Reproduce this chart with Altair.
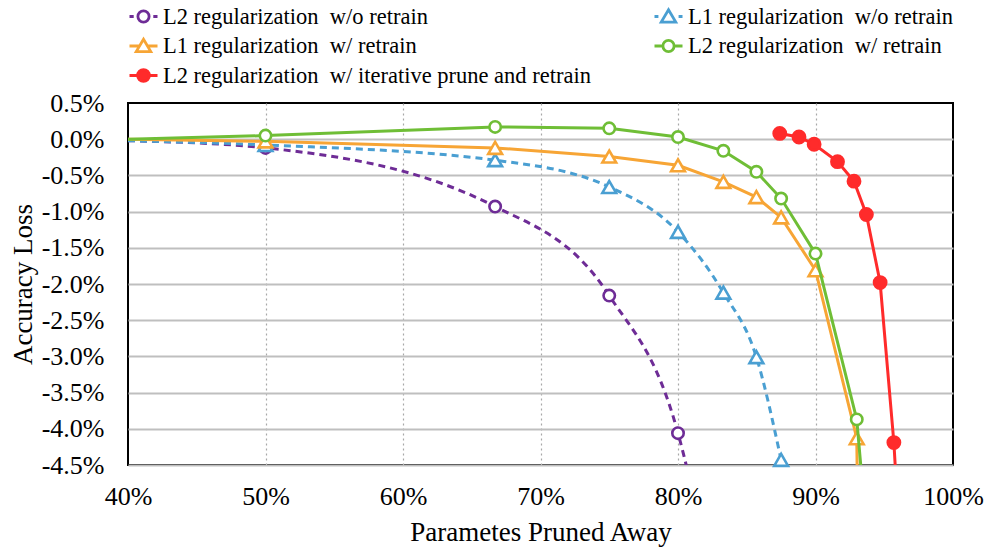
import altair as alt
import pandas as pd

# Series names (legend order, row by row)
SERIES = [
    "L2 regularization\u00a0 w/o retrain",
    "L1 regularization\u00a0 w/o retrain",
    "L1 regularization\u00a0 w/ retrain",
    "L2 regularization\u00a0 w/ retrain",
    "L2 regularization\u00a0 w/ iterative prune and retrain",
]

# Fraction of parameters pruned away (%) and accuracy change (%) per series.
# The flag lists mark which vertices carry a marker.
l2_noretrain_x = [40, 50, 66.7, 75, 80, 83.3]
l2_noretrain_y = [-0.02, -0.12, -0.93, -2.16, -4.06, -7.0]
l2_noretrain_m = [False, True, True, True, True, False]

l1_noretrain_x = [40, 50, 66.7, 75, 80, 83.3, 85.7, 87.5]
l1_noretrain_y = [-0.02, -0.08, -0.29, -0.66, -1.28, -2.12, -3.01, -4.43]
l1_noretrain_m = [False, True, True, True, True, True, True, True]

l1_retrain_x = [40, 50, 66.7, 75, 80, 83.3, 85.7, 87.5, 90, 93, 93.1]
l1_retrain_y = [0.0, -0.03, -0.12, -0.24, -0.36, -0.59, -0.80, -1.08, -1.81, -4.13, -5.5]
l1_retrain_m = [False, True, True, True, True, True, True, True, True, True, False]

l2_retrain_x = [40, 50, 66.7, 75, 80, 83.3, 85.7, 87.5, 90, 93, 93.75]
l2_retrain_y = [0.0, 0.05, 0.17, 0.15, 0.03, -0.16, -0.45, -0.82, -1.58, -3.87, -5.5]
l2_retrain_m = [False, True, True, True, True, True, True, True, True, True, False]

l2_iter_x = [87.4, 88.8, 89.9, 91.6, 92.8, 93.7, 94.7, 95.7, 96.1]
l2_iter_y = [0.08, 0.03, -0.07, -0.31, -0.58, -1.04, -1.98, -4.19, -5.5]
l2_iter_m = [True, True, True, True, True, True, True, True, False]

x_ticks = [40, 50, 60, 70, 80, 90, 100]
y_ticks = [0.5, 0.0, -0.5, -1.0, -1.5, -2.0, -2.5, -3.0, -3.5, -4.0, -4.5]

SERIF = "Liberation Serif"

# Per-series drawing style
STYLES = [
    dict(color="#6E2C96", dash=[7, 5], interp="monotone", shape="circle", fill="white", size=130),
    dict(color="#4A9FD2", dash=[7, 5], interp="monotone", shape="triangle-up", fill="white", size=190),
    dict(color="#F7A535", dash=None, interp="linear", shape="triangle-up", fill="white", size=190),
    dict(color="#6FBE36", dash=None, interp="linear", shape="circle", fill="white", size=130),
    dict(color="#FF2B2B", dash=None, interp="linear", shape="circle", fill="#FF2B2B", size=150),
]

# Legend glyphs: line stubs with the marker in the middle (unit box -1..1)
LEGEND_PATHS = [
    "M-1,0H-0.7M0.7,0H1M0.4,0A0.4,0.4,0,1,1,-0.4,0A0.4,0.4,0,1,1,0.4,0",
    "M-1,0H-0.72M0.72,0H1M0,-0.48L0.52,0.4L-0.52,0.4Z",
    "M-1,0H-0.3M0.3,0H1M0,-0.48L0.52,0.4L-0.52,0.4Z",
    "M-1,0H-0.4M0.4,0H1M0.4,0A0.4,0.4,0,1,1,-0.4,0A0.4,0.4,0,1,1,0.4,0",
    "M-1,0H-0.42M0.42,0H1M0.42,0A0.42,0.42,0,1,1,-0.42,0A0.42,0.42,0,1,1,0.42,0",
]

data = [
    (l2_noretrain_x, l2_noretrain_y, l2_noretrain_m),
    (l1_noretrain_x, l1_noretrain_y, l1_noretrain_m),
    (l1_retrain_x, l1_retrain_y, l1_retrain_m),
    (l2_retrain_x, l2_retrain_y, l2_retrain_m),
    (l2_iter_x, l2_iter_y, l2_iter_m),
]

x_axis = alt.Axis(
    values=x_ticks,
    labelExpr="datum.value + '%'",
    grid=True,
    gridDash=[2, 3],
    gridColor="#a8a8a8",
    gridWidth=1.2,
    gridOpacity={"condition": {"test": "datum.value < 41 || datum.value > 99", "value": 0}, "value": 1},
    domain=False,
    ticks=False,
    labelPadding=18,
    labelFlush=False,
    title="Parametes Pruned Away",
    titlePadding=10,
)

y_axis = alt.Axis(
    values=y_ticks,
    labelExpr="(datum.value < 0 ? '-' : '') + format(abs(datum.value), '.1f') + '%'",
    grid=True,
    gridColor="#bfbfbf",
    gridWidth=2,
    gridOpacity={"condition": {"test": "datum.value > 0.4", "value": 0}, "value": 1},
    domain=False,
    ticks=False,
    labelPadding=24,
    labelFlush=False,
    title="Accuracy Loss",
    titlePadding=4,
)

X = alt.X("pruned:Q", scale=alt.Scale(domain=[40, 100], nice=False, zero=False), axis=x_axis)
Y = alt.Y("loss:Q", scale=alt.Scale(domain=[-4.5, 0.5], nice=False, zero=False), axis=y_axis)

layers = []
for (xs, ys, ms), st in zip(data, STYLES):
    df = pd.DataFrame({"pruned": xs, "loss": ys, "marker": ms})
    base = alt.Chart(df).encode(x=X, y=Y)
    line_kw = dict(color=st["color"], strokeWidth=3, interpolate=st["interp"], clip=True)
    if st["dash"]:
        line_kw["strokeDash"] = st["dash"]
    layers.append(base.mark_line(**line_kw))
    layers.append(
        base.transform_filter("datum.marker").mark_point(
            shape=st["shape"], size=st["size"], filled=True, fill=st["fill"],
            stroke=st["color"], strokeWidth=2.6, opacity=1,
        )
    )

# Legend built from the series list
legend = alt.Legend(
    title=None,
    orient="none",
    direction="horizontal",
    legendX=0,
    legendY=-102,
    columns=2,
)
legend_df = pd.DataFrame({"series": SERIES})
legend_layer = alt.Chart(legend_df).mark_point(opacity=0, filled=True).encode(
    shape=alt.Shape("series:N", scale=alt.Scale(domain=SERIES, range=LEGEND_PATHS), legend=legend),
    stroke=alt.Stroke("series:N", scale=alt.Scale(domain=SERIES, range=[s["color"] for s in STYLES]), legend=legend),
    fill=alt.Fill("series:N", scale=alt.Scale(domain=SERIES, range=[s["fill"] for s in STYLES]), legend=legend),
)

chart = (
    alt.layer(*layers, legend_layer)
    .properties(
        width=825,
        height=362,
        autosize=alt.AutoSizeParams(type="none"),
        padding={"left": 128, "top": 103, "right": 35, "bottom": 85},
        background="white",
    )
    .configure(font=SERIF)
    .configure_view(stroke="black", strokeWidth=2)
    .configure_axis(
        labelFont=SERIF,
        labelFontSize=26,
        labelColor="black",
        titleFont=SERIF,
        titleFontSize=27,
        titleFontWeight="normal",
        titleColor="black",
    )
    .configure_legend(
        labelFont=SERIF,
        labelFontSize=22.5,
        labelColor="black",
        labelOffset=4,
        labelLimit=700,
        columnPadding=57,
        rowPadding=2.5,
        symbolSize=784,
        symbolStrokeWidth=2.8,
        symbolOpacity=1,
        padding=0,
    )
)

chart.save("out.html", embed_options={"renderer": "svg", "actions": False})
